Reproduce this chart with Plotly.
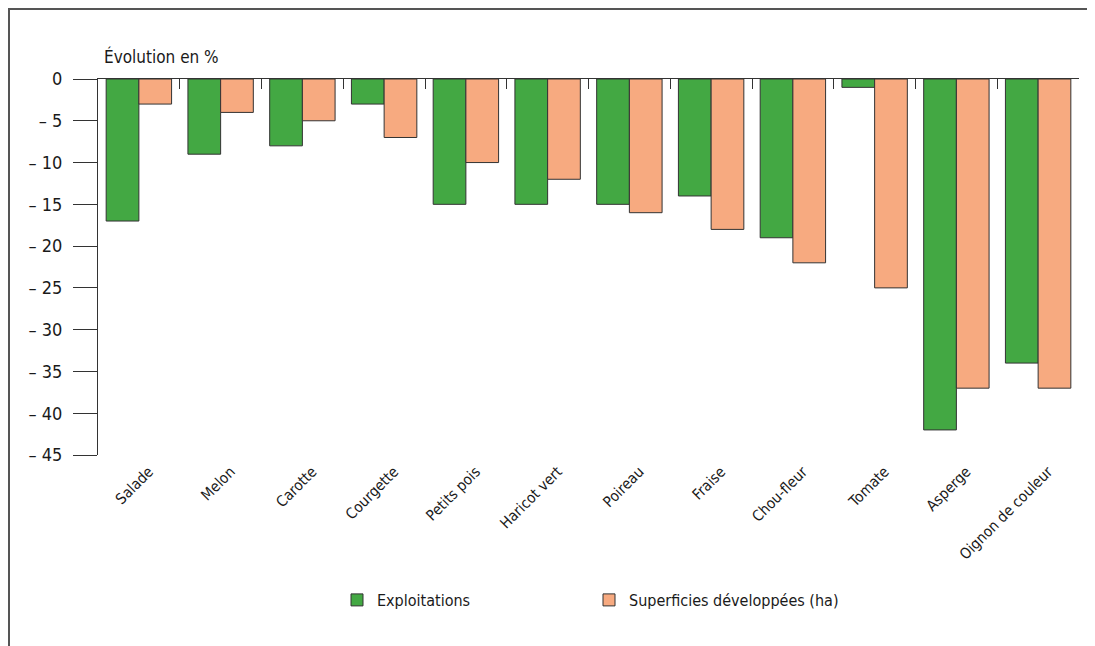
import plotly.graph_objects as go

categories = ["Salade", "Melon", "Carotte", "Courgette", "Petits pois", "Haricot vert",
              "Poireau", "Fraise", "Chou-fleur", "Tomate", "Asperge", "Oignon de couleur"]
exploitations = [-17, -9, -8, -3, -15, -15, -15, -14, -19, -1, -42, -34]
superficies = [-3, -4, -5, -7, -10, -12, -16, -18, -22, -25, -37, -37]
y_tickvals = [0, -5, -10, -15, -20, -25, -30, -35, -40, -45]
y_ticktext = ["0", "– 5", "– 10", "– 15", "– 20", "– 25", "– 30", "– 35", "– 40", "– 45"]

FONT = "DejaVu Sans Condensed, Liberation Sans Narrow, sans-serif"
GREEN = "#43a843"
ORANGE = "#f7aa80"
EDGE = "#333333"

OFF = 8  # page body margin
W, H = 1095, 646
# plot area in screen coords: x 98..1079, y 79..455
ML = 98 - OFF
MT = 79 - OFF
PW = 1079 - 98
PH = 455 - 79
MR = W - ML - PW
MB = H - MT - PH


def px(xs):
    return (xs - OFF - ML) / PW


def py(ys):
    return 1 - (ys - OFF - MT) / PH


fig = go.Figure()
fig.add_trace(go.Bar(x=categories, y=exploitations, name="Exploitations",
                     marker=dict(color=GREEN, line=dict(color=EDGE, width=1))))
fig.add_trace(go.Bar(x=categories, y=superficies, name="Superficies développées (ha)",
                     marker=dict(color=ORANGE, line=dict(color=EDGE, width=1))))

n = len(categories)
boundaries = [i - 0.5 for i in range(n + 1)]

fig.update_layout(
    width=W, height=H,
    margin=dict(l=ML, r=MR, t=MT, b=MB, pad=0),
    paper_bgcolor="white", plot_bgcolor="white",
    barmode="group", bargap=0.2, bargroupgap=0,
    font=dict(family=FONT, size=16, color="#1a1a1a"),
    xaxis=dict(type="category", showline=False, ticks="", showgrid=False,
               tickangle=-45, tickfont=dict(size=15), ticklabelshift=10,
               ticklabelstandoff=4),
    xaxis2=dict(overlaying="x", side="top", anchor="y", range=[-0.5, n - 0.5],
                showline=True, linecolor=EDGE, linewidth=1,
                tickmode="array", tickvals=boundaries, ticks="inside",
                ticklen=10, tickcolor=EDGE, showticklabels=False, showgrid=False,
                zeroline=False),
    yaxis=dict(range=[-45, 0], tickvals=y_tickvals, ticktext=y_ticktext,
               showline=True, linecolor=EDGE, linewidth=1,
               ticks="outside", ticklen=24, tickcolor=EDGE,
               showgrid=False, zeroline=False, ticklabelstandoff=7,
               tickfont=dict(size=18)),
    legend=dict(orientation="h", x=px(337), xanchor="left",
                y=py(583), yanchor="top",
                font=dict(size=16), entrywidth=207, entrywidthmode="pixels",
                traceorder="normal"),
    showlegend=True,
)

# dummy trace to activate xaxis2
fig.add_trace(go.Scatter(x=[0], y=[None], xaxis="x2", yaxis="y", showlegend=False,
                         hoverinfo="skip", mode="markers"))

fig.add_annotation(text="Évolution en %", xref="paper", yref="paper",
                   x=px(102), y=py(57), xanchor="left", yanchor="middle",
                   showarrow=False, font=dict(size=17))

# frame lines (top and left)
fig.add_shape(type="line", xref="paper", yref="paper", x0=px(8), x1=px(W + 20),
              y0=py(9), y1=py(9), line=dict(color="#555555", width=2))
fig.add_shape(type="line", xref="paper", yref="paper", x0=px(9), x1=px(9),
              y0=py(9), y1=py(H + 20), line=dict(color="#555555", width=2))

fig.write_html("out.html")
